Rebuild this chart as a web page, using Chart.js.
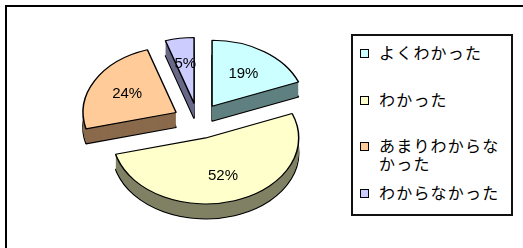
<!DOCTYPE html>
<html>
<head>
<meta charset="utf-8">
<script src="https://cdn.jsdelivr.net/npm/chart.js@4/dist/chart.umd.min.js"></script>
<style>
    body { margin: 0; width: 523px; height: 248px; overflow: hidden; background: #fff; position: relative; }
    #frame { position: absolute; left: 5px; top: 5px; width: 600px; height: 300px; border: 2px solid #000; box-sizing: border-box; }
    #pieBox { position: absolute; left: 0; top: 0; width: 396px; height: 242px; }
    #legend { position: absolute; left: 351px; top: 34px; width: 162px; height: 182px; border: 2px solid #111; box-sizing: border-box; background: #fff; }
    .item { position: absolute; left: 0; display: flex; align-items: flex-start; }
    .swatch { width: 7px; height: 7px; border: 1px solid #000; margin: 6px 10px 0 7px; flex: none; }
    .text { font-family: "Noto Sans CJK JP", sans-serif; font-size: 16px; line-height: 18px; letter-spacing: 1.2px; width: 126px; color: #000; word-break: break-all; }
</style>
</head>
<body>
<div id="frame"></div>
<div id="pieBox"><canvas id="myChart" width="396" height="242"></canvas></div>
<div id="legend"></div>
<script>
const labels = ['よくわかった', 'わかった', 'あまりわからなかった', 'わからなかった'];
const values = [19, 52, 24, 5];
const topColors = ['#CCFFFF', '#FFFFCC', '#FFCC99', '#CCCCFF'];
const sideColors = ['#608080', '#808064', '#8A6A4C', '#686888'];

// layout of the fake 3d pie
const tilt = 0.71;
const depth = 15;
const explode = 25;
const legendRowTops = [7, 54, 100, 147];

function buildLegend() {
    const box = document.getElementById('legend');
    labels.forEach((label, i) => {
        const row = document.createElement('div');
        row.className = 'item';
        row.style.top = legendRowTops[i] + 'px';
        const sw = document.createElement('div');
        sw.className = 'swatch';
        sw.style.background = topColors[i];
        const tx = document.createElement('div');
        tx.className = 'text';
        tx.textContent = label;
        row.appendChild(sw);
        row.appendChild(tx);
        box.appendChild(row);
    });
}

function placeArc(ctx, arc, dy) {
    const mid = (arc.startAngle + arc.endAngle) / 2;
    ctx.translate(0, dy);
    ctx.translate(arc.x, arc.y);
    ctx.scale(1, tilt);
    ctx.translate(-arc.x, -arc.y);
    ctx.translate(Math.cos(mid) * explode, Math.sin(mid) * explode);
}

const pie3d = {
    id: 'pie3d',
    beforeDatasetsDraw(chart) {
        const ctx = chart.ctx;
        const meta = chart.getDatasetMeta(0);
        const total = values.reduce((a, b) => a + b, 0);

        // side walls
        meta.data.forEach((arc, i) => {
            const saved = arc.options;
            for (let d = depth; d >= 1; d--) {
                ctx.save();
                placeArc(ctx, arc, d);
                arc.options = Object.assign({}, saved, {
                    backgroundColor: sideColors[i],
                    borderColor: '#000',
                    borderWidth: d === depth ? 1.5 : 0
                });
                arc.draw(ctx);
                ctx.restore();
            }
            arc.options = saved;
        });

        // top faces
        meta.data.forEach((arc) => {
            ctx.save();
            placeArc(ctx, arc, 0);
            arc.draw(ctx);
            ctx.restore();
        });

        // percentage labels
        ctx.save();
        ctx.font = '15px "Liberation Sans", Arial, sans-serif';
        ctx.fillStyle = '#000';
        ctx.textAlign = 'center';
        ctx.textBaseline = 'middle';
        meta.data.forEach((arc, i) => {
            const mid = (arc.startAngle + arc.endAngle) / 2;
            const r = explode + arc.outerRadius * 0.6;
            const px = arc.x + Math.cos(mid) * r;
            const py = arc.y + Math.sin(mid) * r * tilt;
            ctx.fillText(Math.round(values[i] / total * 100) + '%', px, py);
        });
        ctx.restore();
        return false;
    }
};

function createChart() {
    const ctx = document.getElementById('myChart');
    new Chart(ctx, {
        type: 'pie',
        data: {
            labels: labels,
            datasets: [{
                data: values,
                backgroundColor: topColors,
                borderColor: '#000',
                borderWidth: 1.5
            }]
        },
        options: {
            responsive: false,
            animation: false,
            radius: 93,
            layout: { padding: 0 },
            plugins: {
                legend: { display: false },
                tooltip: { enabled: false }
            }
        },
        plugins: [pie3d]
    });
}

buildLegend();
createChart();
</script>
</body>
</html>
